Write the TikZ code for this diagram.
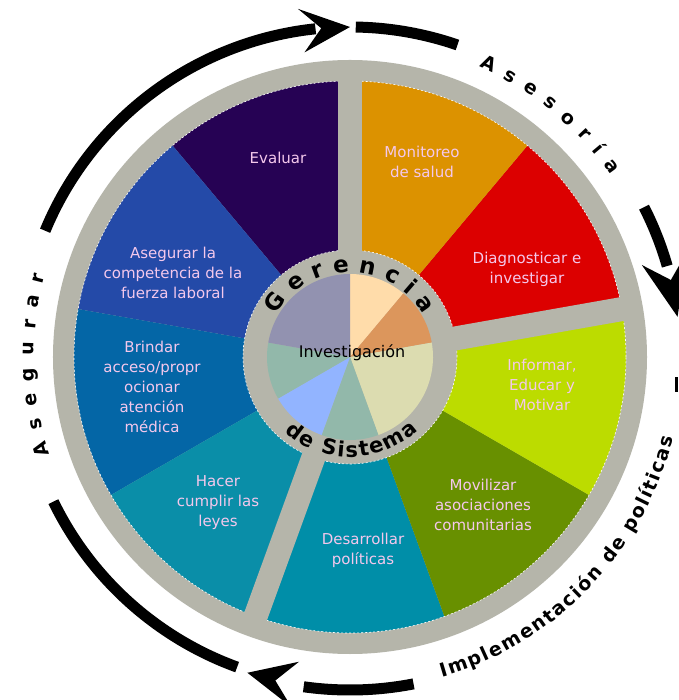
\documentclass[tikz,border=0pt]{standalone}
\usepackage{fontspec}
\setmainfont{DejaVu Sans}
\usetikzlibrary{decorations.text}

\definecolor{ringgray}{RGB}{181,181,170}
\definecolor{evalpurple}{RGB}{38,2,84}
\definecolor{compblue}{RGB}{36,74,168}
\definecolor{accessblue}{RGB}{4,102,166}
\definecolor{lawteal}{RGB}{10,142,168}
\definecolor{policyteal}{RGB}{0,142,168}
\definecolor{mobolive}{RGB}{104,144,0}
\definecolor{infolime}{RGB}{188,220,0}
\definecolor{diagred}{RGB}{220,0,0}
\definecolor{monorange}{RGB}{220,146,0}
\definecolor{labelpink}{RGB}{244,200,236}
\definecolor{piepeach}{RGB}{255,220,170}
\definecolor{pietan}{RGB}{220,150,92}
\definecolor{piebeige}{RGB}{220,220,176}
\definecolor{piesage}{RGB}{146,184,170}
\definecolor{pieblue}{RGB}{146,180,255}
\definecolor{pielilac}{RGB}{146,146,176}

\begin{document}
\begin{tikzpicture}[x=1pt,y=1pt]
\tikzstyle{every node}+=[inner sep=0pt]
\tikzstyle{task}=[text=labelpink,align=center,font=\fontsize{15}{20}\selectfont]
\useasboundingbox (-350,-343) rectangle (328,357);
\fill [white] (-350,-343) rectangle (328,357);
% wheel
\fill [ringgray] (0,0) circle (297);
\fill [evalpurple] (90:107) arc (90:130:107) -- (130:276) arc (130:90:276) -- cycle;
\fill [compblue] (130:107) arc (130:170:107) -- (170:276) arc (170:130:276) -- cycle;
\fill [accessblue] (170:107) arc (170:210:107) -- (210:276) arc (210:170:276) -- cycle;
\fill [lawteal] (210:107) arc (210:250:107) -- (250:276) arc (250:210:276) -- cycle;
\fill [policyteal] (250:107) arc (250:290:107) -- (290:276) arc (290:250:276) -- cycle;
\fill [mobolive] (-70:107) arc (-70:-30:107) -- (-30:276) arc (-30:-70:276) -- cycle;
\fill [infolime] (-30:107) arc (-30:10:107) -- (10:276) arc (10:-30:276) -- cycle;
\fill [diagred] (10:107) arc (10:50:107) -- (50:276) arc (50:10:276) -- cycle;
\fill [monorange] (50:107) arc (50:90:107) -- (90:276) arc (90:50:276) -- cycle;
\draw [white,line width=0.6pt,dash pattern=on 2pt off 2pt] (0,0) circle (276);
\draw [white,line width=0.6pt,dash pattern=on 2pt off 2pt] (0,0) circle (107);
% spokes
\draw [ringgray,line width=24] (90:96) -- (90:286);
\draw [ringgray,line width=24] (10:96) -- (10:286);
\draw [ringgray,line width=24] (250:96) -- (250:286);
% inner pie
\fill [piepeach] (0,0) -- (50:83) arc (50:90:83) -- cycle;
\fill [pietan] (0,0) -- (10:83) arc (10:50:83) -- cycle;
\fill [piebeige] (0,0) -- (-70:83) arc (-70:10:83) -- cycle;
\fill [piesage] (0,0) -- (-110:83) arc (-110:-70:83) -- cycle;
\fill [pieblue] (0,0) -- (210:83) arc (210:250:83) -- cycle;
\fill [piesage] (0,0) -- (170:83) arc (170:210:83) -- cycle;
\fill [pielilac] (0,0) -- (90:83) arc (90:170:83) -- cycle;
% labels
\node [task] (evaluar) at (-72,199) {Evaluar};
\node [task] (monitoreo) at (72,195) {Monitoreo\\de salud};
\node [task] (diagnosticar) at (177,88) {Diagnosticar e\\investigar};
\node [task] (informar) at (192,-28) {Informar,\\Educar y\\Motivar};
\node [task] (movilizar) at (133,-148) {Movilizar\\asociaciones\\comunitarias};
\node [task] (desarrollar) at (13,-193) {Desarrollar\\políticas};
\node [task] (hacer) at (-132,-146) {Hacer\\cumplir las\\leyes};
\node [task] (brindar) at (-198,-30) {Brindar\\acceso/propr\\ocionar\\atención\\médica};
\node [task] (asegurar) at (-177,84) {Asegurar la\\competencia de la\\fuerza laboral};
\node [font=\fontsize{16}{16}\selectfont] (investigacion) at (2,4) {Investigación};
% curved titles
\path [decorate,decoration={text along path,text align={fit to path},
  text={|\fontsize{23}{23}\selectfont\bfseries|Gerencia}}] (150:85) arc (150:30:85);
\path [decorate,decoration={text along path,text align={fit to path},
  text={|\fontsize{21}{21}\selectfont\bfseries|de Sistema}}] (229:100) arc (229:313:100);
\path [decorate,decoration={text along path,text align={fit to path},
  text={|\fontsize{19}{19}\selectfont\bfseries|Asesoría}}] (66:318) arc (66:35:318);
\path [decorate,decoration={text along path,text align={fit to path},
  text={|\fontsize{19}{19}\selectfont\bfseries|Asegurar}}] (198:316) arc (198:165:316);
\path [decorate,decoration={text along path,text align={fit to path},
  text={|\fontsize{19}{19}\selectfont\bfseries|Implementación de políticas}}] (-74:333) arc (-74:-14:333);
% arrows
\draw [black,line width=11] (157.5:330) arc (157.5:96:330);
\fill [black] (90:330) -- (98.5:352) -- (95:330) -- (98.5:308) -- cycle;
\draw [black,line width=11] (89:330) arc (89:71:330);
\draw [black,line width=11] (27:330) arc (27:16:330);
\fill [black] (7:330) -- (17.5:354) -- (13.5:330) -- (17.5:306) -- cycle;
\fill [black] (325,-20) rectangle (328,-35);
\draw [black,line width=11] (-79:333) arc (-79:-98:333);
\fill [black] (-108:332) -- (-99.5:355) -- (-103:332) -- (-99.5:309) -- cycle;
\draw [black,line width=11] (250:330) arc (250:206:330);
\end{tikzpicture}
\end{document}
